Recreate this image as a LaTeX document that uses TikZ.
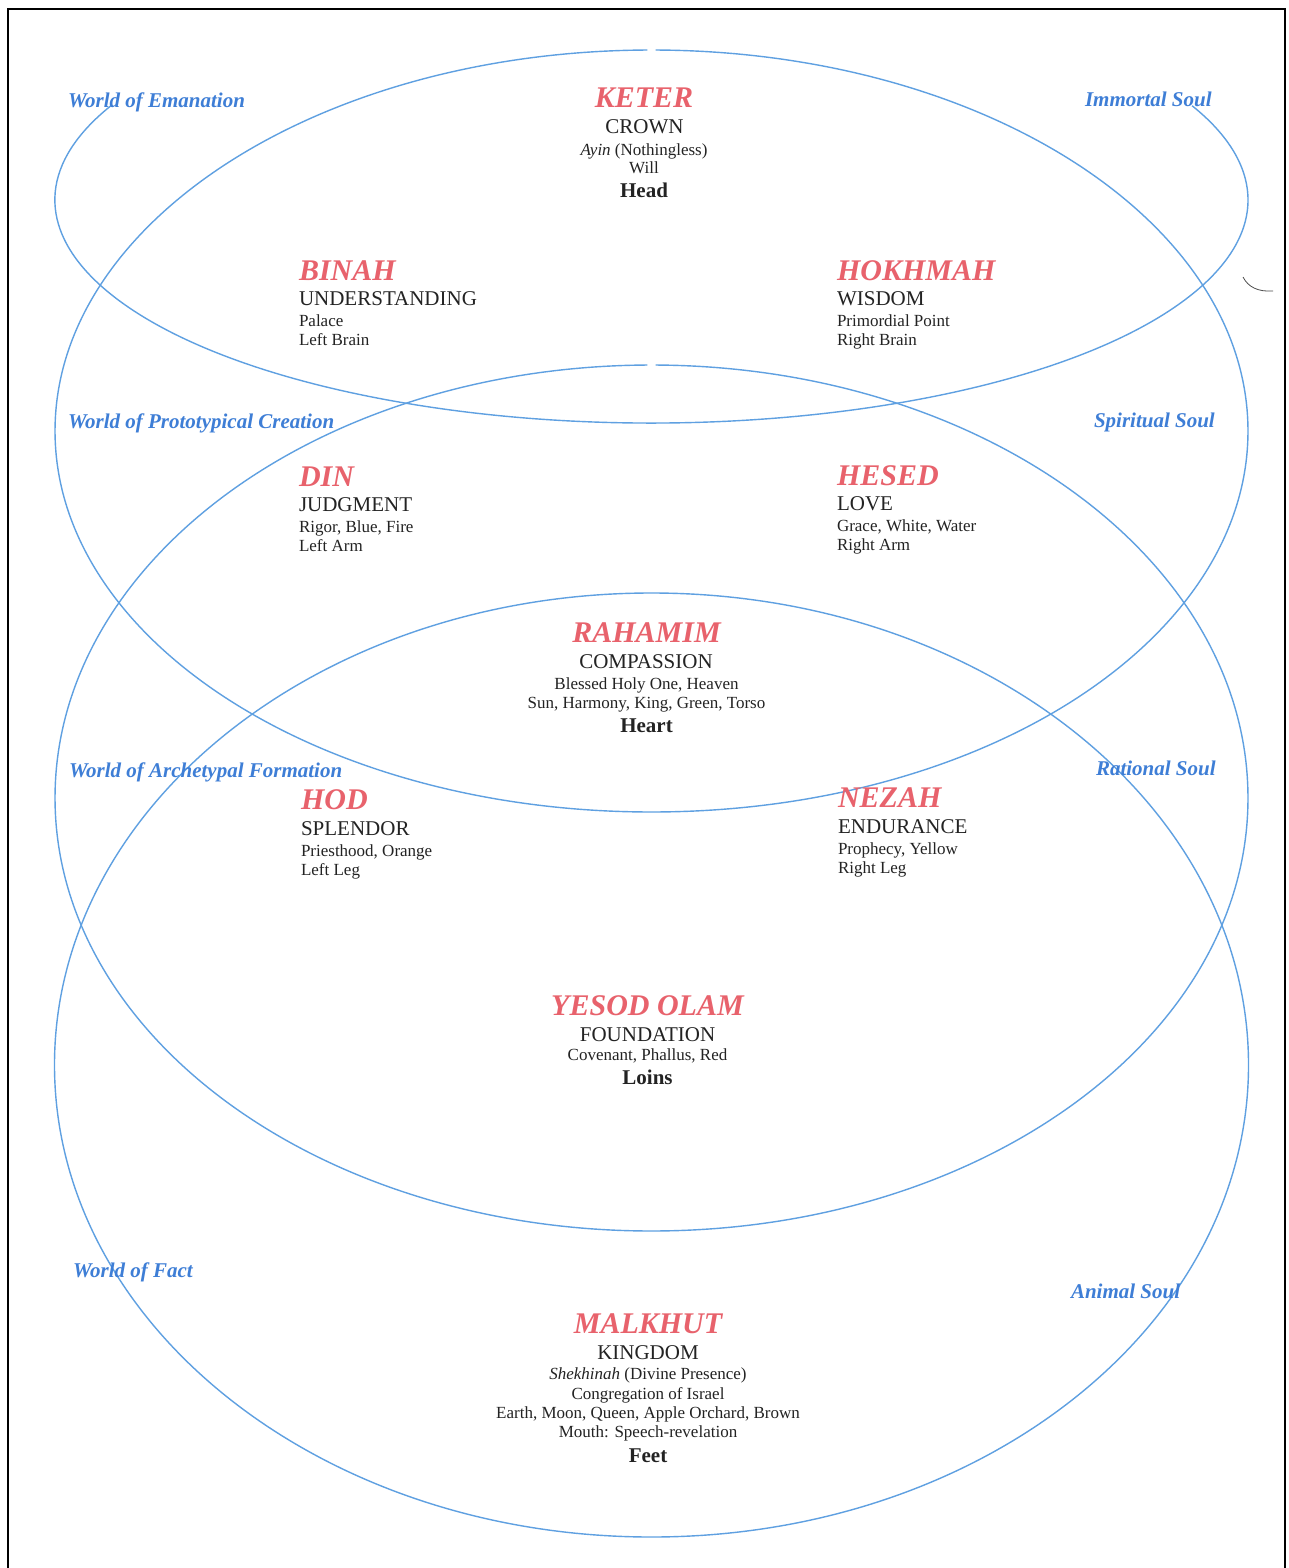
\documentclass[tikz,border=0pt]{standalone}
\usepackage{fontspec}
\setmainfont{Liberation Serif}
\usetikzlibrary{calc}
\definecolor{sefred}{RGB}{232,98,108}
\definecolor{lblue}{RGB}{62,126,214}
\definecolor{ringc}{RGB}{95,160,225}
\definecolor{inkc}{RGB}{35,35,35}
\begin{document}
\begin{tikzpicture}[x=1pt,y=1pt,
  every node/.style={inner sep=0pt, outer sep=0pt},
  ring/.style={draw=ringc, line width=1.4pt},
  sefira/.style={font=\fontsize{30}{30}\selectfont\bfseries\itshape, text=sefred},
  meaning/.style={font=\fontsize{21}{21}\selectfont, text=inkc},
  attr/.style={font=\fontsize{17}{17}\selectfont, text=inkc},
  organ/.style={font=\fontsize{21}{21}\selectfont\bfseries, text=inkc},
  world/.style={font=\fontsize{21}{21}\selectfont\bfseries\itshape, text=lblue},
  cL/.style={anchor=base west},
  cC/.style={anchor=base}]
\useasboundingbox (0,0) rectangle (1288,-1568);
\fill[white] (0,0) rectangle (1288,-1568);
% frame
\draw[line width=2.2pt, black] (8,-1568) -- (8,-9) -- (1285,-9) -- (1285,-1568);
% scan mark at right edge
\draw[line width=0.8pt, black!70] (1243,-277) .. controls (1248,-287) and (1258,-292) .. (1273,-291);

% ellipse centres
\coordinate (c1) at (651.5,-200);
\coordinate (c2) at (651.5,-431);
\coordinate (c3) at (651.5,-798);
\coordinate (c4) at (651.5,-1065);
% the four worlds
\draw[ring] ($(c1)+(155:596.5pt and 223pt)$) arc[start angle=155, end angle=385, x radius=596.5pt, y radius=223pt];
\draw[ring] ($(c2)+(90.4:596.5pt and 381pt)$) arc[start angle=90.4, end angle=449.6, x radius=596.5pt, y radius=381pt];
\draw[ring] ($(c3)+(90.4:596.5pt and 433pt)$) arc[start angle=90.4, end angle=449.6, x radius=596.5pt, y radius=433pt];
\draw[ring] ($(c4)+(90:597pt and 472pt)$) arc[start angle=90, end angle=450, x radius=597pt, y radius=472pt];

% world labels
\node[world,cL] (w1) at (68,-108) {World of Emanation};
\node[world,cL] (s1) at (1085,-107) {Immortal Soul};
\node[world,cL] (w2) at (68,-428) {World of Prototypical Creation};
\node[world,cL] (s2) at (1094,-427) {Spiritual Soul};
\node[world,cL] (w3) at (69,-777) {World of Archetypal Formation};
\node[world,cL] (s3) at (1096,-775) {Rational Soul};
\node[world,cL] (w4) at (73,-1277) {World of Fact};
\node[world,cL] (s4) at (1071,-1298) {Animal Soul};

% KETER
\node[sefira,cC] (keter) at (644,-108) {KETER};
\node[meaning,cC] (keterm) at (644.5,-133) {CROWN};
\node[attr,cC] (ketera) at (644,-155) {\textit{Ayin} (Nothingless)};
\node[attr,cC] (keterb) at (644,-173) {Will};
\node[organ,cC] (ketero) at (644,-197) {Head};

% BINAH
\node[sefira,cL] (binah) at (299,-280) {BINAH};
\node[meaning,cL] (binahm) at (299,-305) {UNDERSTANDING};
\node[attr,cL] (binaha) at (299,-326) {Palace};
\node[attr,cL] (binahb) at (299,-345) {Left Brain};

% HOKHMAH
\node[sefira,cL] (hokh) at (837,-280) {HOKHMAH};
\node[meaning,cL] (hokhm) at (837,-305) {WISDOM};
\node[attr,cL] (hokha) at (837,-326) {Primordial Point};
\node[attr,cL] (hokhb) at (837,-345) {Right Brain};

% DIN
\node[sefira,cL] (din) at (299,-486) {DIN};
\node[meaning,cL] (dinm) at (299,-511) {JUDGMENT};
\node[attr,cL] (dina) at (299,-532) {Rigor, Blue, Fire};
\node[attr,cL] (dinb) at (299,-551) {Left Arm};

% HESED
\node[sefira,cL] (hesed) at (837,-485) {HESED};
\node[meaning,cL] (hesedm) at (837,-510) {LOVE};
\node[attr,cL] (heseda) at (837,-531) {Grace, White, Water};
\node[attr,cL] (hesedb) at (837,-550) {Right Arm};

% RAHAMIM
\node[sefira,cC] (rah) at (646.5,-642) {RAHAMIM};
\node[meaning,cC] (rahm) at (646,-668) {COMPASSION};
\node[attr,cC] (raha) at (646.5,-689) {Blessed Holy One, Heaven};
\node[attr,cC] (rahb) at (646.5,-708) {Sun, Harmony, King, Green, Torso};
\node[organ,cC] (raho) at (646.5,-732) {Heart};

% HOD
\node[sefira,cL] (hod) at (301,-809) {HOD};
\node[meaning,cL] (hodm) at (301,-835) {SPLENDOR};
\node[attr,cL] (hoda) at (301,-856) {Priesthood, Orange};
\node[attr,cL] (hodb) at (301,-875) {Left Leg};

% NEZAH
\node[sefira,cL] (nezah) at (838,-807) {NEZAH};
\node[meaning,cL] (nezahm) at (838,-833) {ENDURANCE};
\node[attr,cL] (nezaha) at (838,-854) {Prophecy, Yellow};
\node[attr,cL] (nezahb) at (838,-873) {Right Leg};

% YESOD
\node[sefira,cC] (yesod) at (647.5,-1015) {YESOD OLAM};
\node[meaning,cC] (yesodm) at (647.5,-1041) {FOUNDATION};
\node[attr,cC] (yesoda) at (647.5,-1060) {Covenant, Phallus, Red};
\node[organ,cC] (yesodo) at (647.5,-1084) {Loins};

% MALKHUT
\node[sefira,cC] (malk) at (648,-1333) {MALKHUT};
\node[meaning,cC] (malkm) at (648,-1359) {KINGDOM};
\node[attr,cC] (malka) at (648,-1379) {\textit{Shekhinah} (Divine Presence)};
\node[attr,cC] (malkb) at (648,-1399) {Congregation of Israel};
\node[attr,cC] (malkc) at (648,-1418) {Earth, Moon, Queen, Apple Orchard, Brown};
\node[attr,cC] (malkd) at (648,-1437) {Mouth: Speech-revelation};
\node[organ,cC] (malko) at (648,-1462) {Feet};
\end{tikzpicture}
\end{document}
